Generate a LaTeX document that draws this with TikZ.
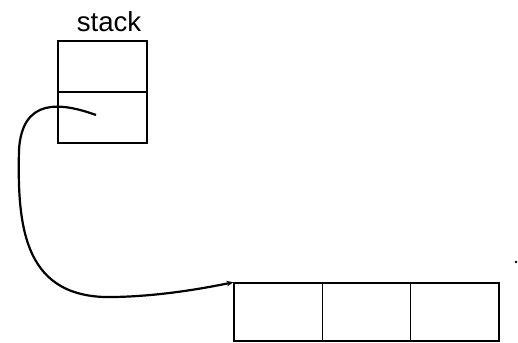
\documentclass[tikz,border=0pt]{standalone}
\usepackage{fontspec}
\setmainfont{Liberation Sans}
\usetikzlibrary{arrows.meta}
\begin{document}
\begin{tikzpicture}[x=0.5pt, y=-0.5pt]
	\tikzset{
		cell/.style={draw, line width=0.7pt, inner sep=0pt},
		ptrline/.style={-{Stealth[length=3.4pt, width=2.8pt]}, line width=1.1pt}
	}
	\useasboundingbox (0,0) rectangle (518,342);
	\newcommand{\stackCell}[2]{
		% args:
		%     "rank" (ordered top to bottom)
		%     name
		\node[cell, minimum width=44.5pt, minimum height=25.5pt] (#2) at (102.5, 66.5 + #1*51) {};
	}
	\newcommand{\arrCell}[2]{
		% args:
		%     "rank" (ordered left to right)
		%     name
		\node[cell, minimum width=44.15pt, minimum height=29pt] (#2) at (278.2 + #1*88.3, 312) {};
	}
	% the stack
	\node[anchor=base, font=\fontsize{13.8pt}{16pt}\selectfont] (title) at (109, 31.7) {stack};
	\stackCell{0}{top}
	\stackCell{1}{frame}
	% the array
	\arrCell{0}{a1}
	\arrCell{1}{a2}
	\arrCell{2}{a3}
	% pointer from the stack into the array
	\coordinate (ptr) at (96, 115);
	\draw[ptrline] (ptr) .. controls (60, 102) and (22, 98) .. (19, 150)
		.. controls (17, 230) and (25, 300) .. (115, 297)
		.. controls (160, 296) and (200, 289) .. (a1.north west);
	\fill (516, 262) circle (1.3);
\end{tikzpicture}
\end{document}
